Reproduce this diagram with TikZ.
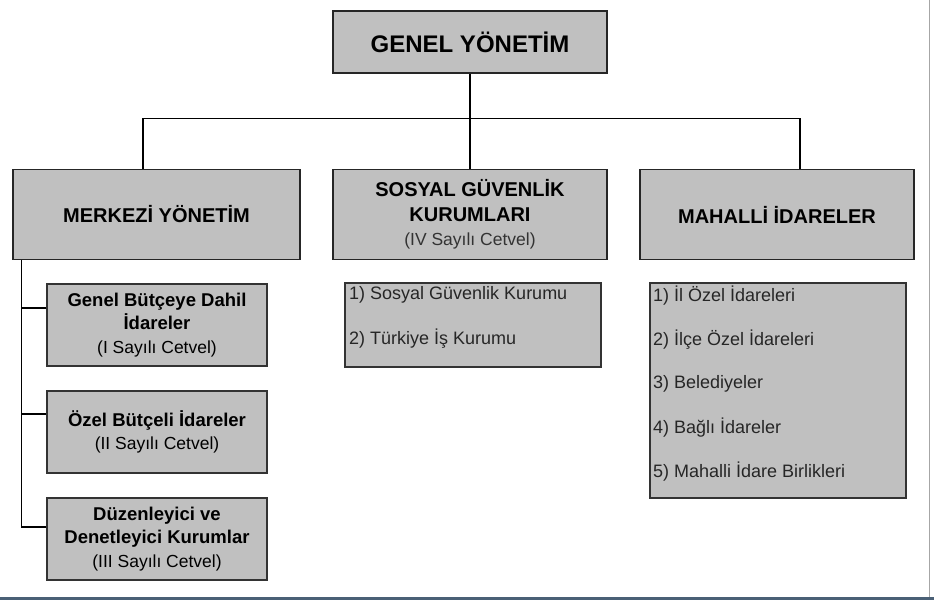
\documentclass[tikz,border=0pt]{standalone}
\usepackage{fontspec}
\setmainfont{Liberation Sans}
\definecolor{boxgray}{HTML}{C0C0C0}
\definecolor{framebar}{HTML}{4A6076}
\newcommand{\cetvel}[1]{{\mdseries\fontsize{17.5}{23.5}\selectfont(#1 Sayılı Cetvel)}}
\begin{document}
\begin{tikzpicture}[x=1pt,y=-1pt,line width=1.6pt,
    ustbox/.style={draw=black!85,fill=boxgray,minimum width=274pt,minimum height=90pt,
      align=center,inner sep=2pt,font=\bfseries\fontsize{20}{24.5}\selectfont},
    altbox/.style={draw=black!80,fill=boxgray,line width=1.2pt,minimum width=220pt,
      minimum height=82pt,align=center,font=\bfseries\fontsize{18.5}{23.5}\selectfont},
    listbox/.style={draw=black!80,fill=boxgray,line width=1.2pt,minimum width=256pt},
    listitem/.style={anchor=west,inner sep=0pt,font=\fontsize{18}{21}\selectfont,text=black!85}]
  \useasboundingbox (0,0) rectangle (934,600);
  % screen frame
  \draw[line width=0.8pt,gray!70] (929,0) -- (929,597);
  \fill[framebar] (0,597) rectangle (934,600);
  % top levels
  \node[ustbox,minimum height=62pt,font=\bfseries\fontsize{24}{28}\selectfont] (genel) at (470,42) {GENEL YÖNETİM};
  \node[ustbox,minimum width=287pt] (merkezi) at (156.5,214.5) {MERKEZİ YÖNETİM};
  \node[ustbox] (sosyal) at (470,214.5) {SOSYAL GÜVENLİK\\KURUMLARI\\{\mdseries\fontsize{17.5}{24.5}\selectfont\color{black!80}(IV Sayılı Cetvel)}};
  \node[ustbox] (mahalli) at (777,214.5) {MAHALLİ İDARELER};
  \coordinate (hat) at (470,118.5);
  \draw (genel.south) -- (hat) -- (sosyal.north);
  \draw ([xshift=-13.5pt]merkezi.north) |- (hat) -| ([xshift=23pt]mahalli.north);
  % merkezi yonetim
  \node[altbox] (genelb) at (157,325) {Genel Bütçeye Dahil\\İdareler\\\cetvel{I}};
  \node[altbox] (ozelb) at (157,432) {Özel Bütçeli İdareler\\\cetvel{II}};
  \node[altbox] (duzen) at (157,539) {Düzenleyici ve\\Denetleyici Kurumlar\\\cetvel{III}};
  \coordinate (omurga) at ([xshift=9.5pt]merkezi.south west);
  \foreach \n/\d in {genelb/17,ozelb/18,duzen/12} {
    \draw[line width=1.2pt] ([yshift=\d pt]\n.west) -| (omurga);
  }
  % lists
  \node[listbox,minimum height=84pt] (sgk) at (473,325) {};
  \foreach \t [count=\i] in {Sosyal Güvenlik Kurumu,Türkiye İş Kurumu} {
    \node[listitem] (sgk\i) at ([xshift=4pt,yshift={-(12+44*(\i-1))*1pt}]sgk.north west) {\i) \t};
  }
  \node[listbox,minimum height=215pt] (mahlist) at (778,390.5) {};
  \foreach \t [count=\i] in {İl Özel İdareleri,İlçe Özel İdareleri,Belediyeler,Bağlı İdareler,Mahalli İdare Birlikleri} {
    \node[listitem] (mah\i) at ([xshift=3pt,yshift={-(13+44*(\i-1))*1pt}]mahlist.north west) {\i) \t};
  }
\end{tikzpicture}
\end{document}
